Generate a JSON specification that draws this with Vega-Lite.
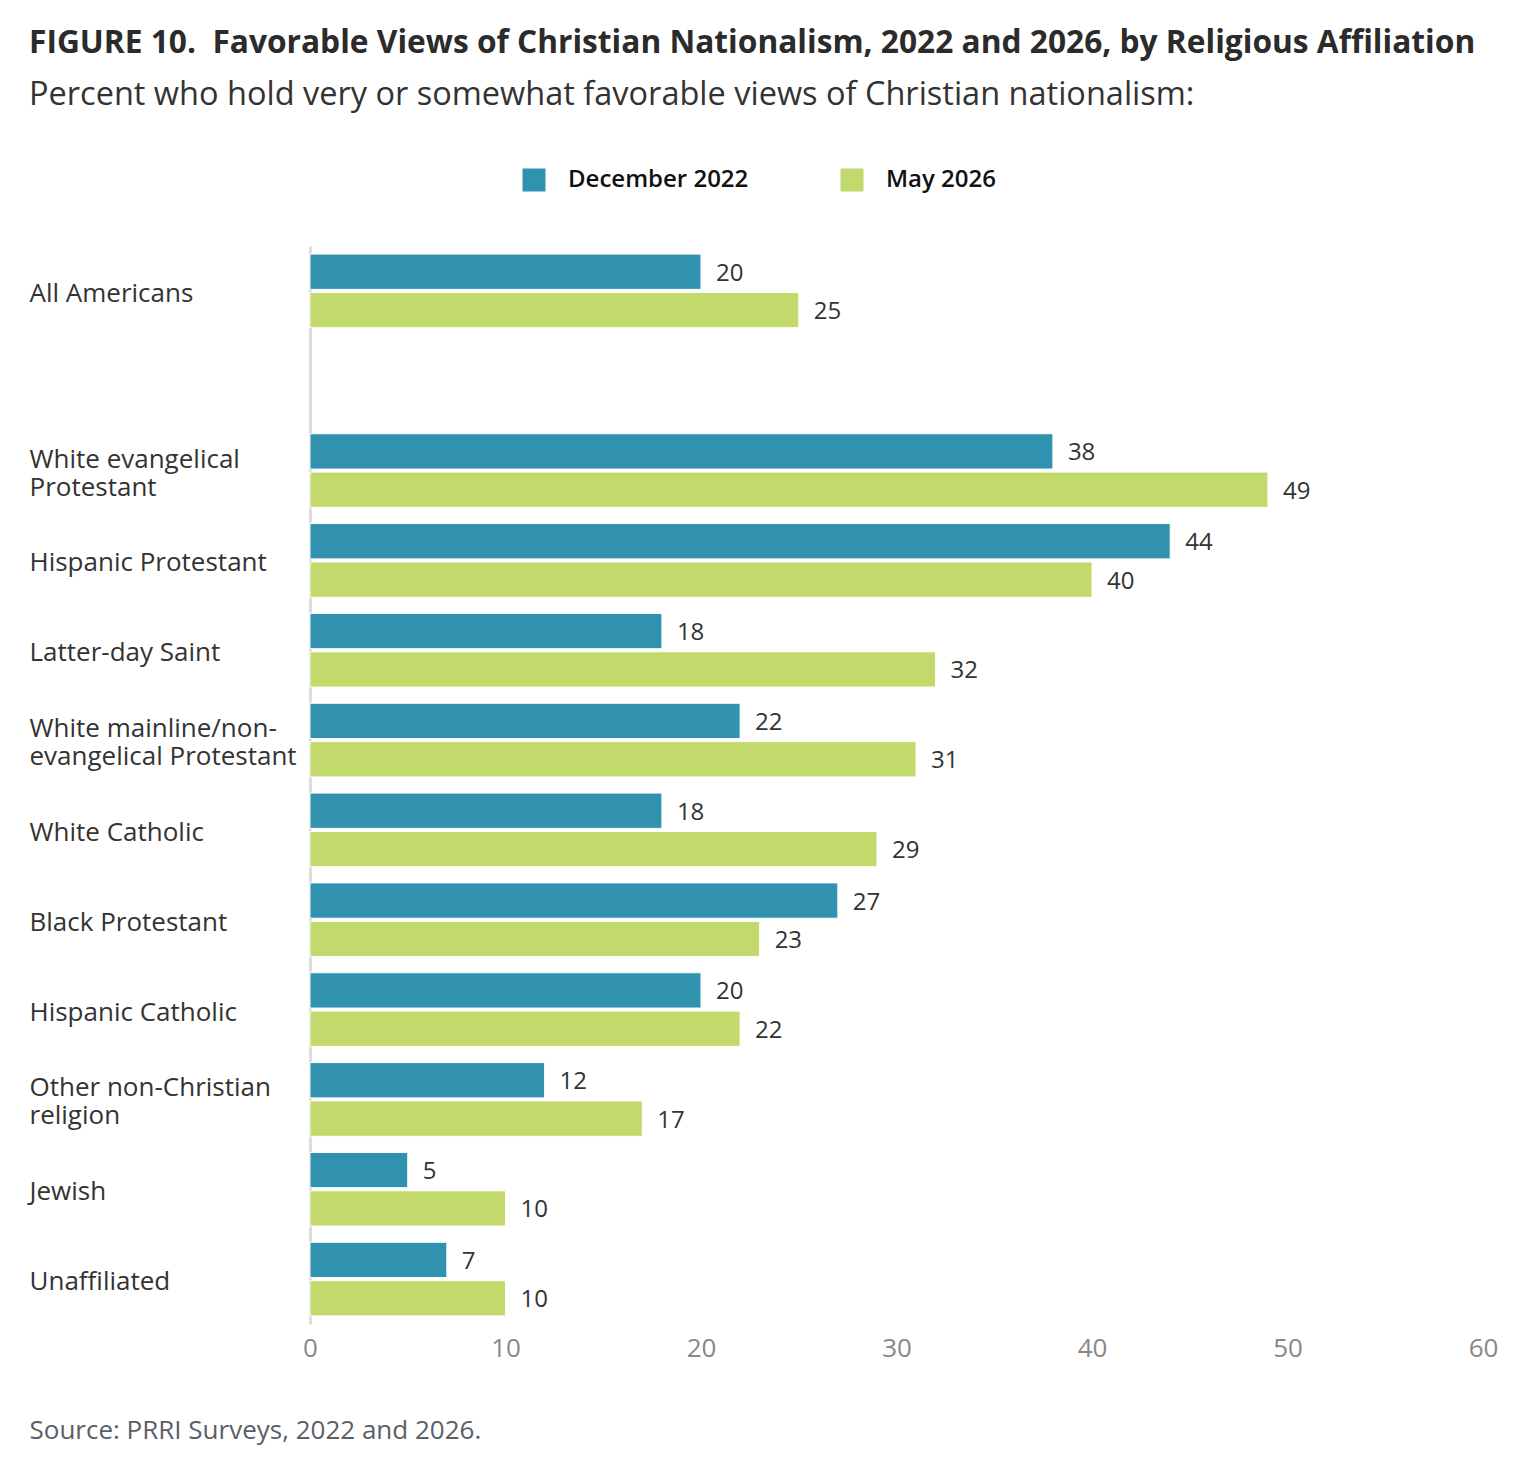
{
  "$schema": "https://vega.github.io/schema/vega-lite/v6.json",
  "autosize": "none",
  "width": 1173,
  "height": 1078,
  "padding": {"left": 310, "top": 246, "right": 53, "bottom": 144},
  "background": "white",
  "config": {
    "font": "Open Sans",
    "view": {"stroke": null}
  },
  "title": {
    "text": "FIGURE 10.\u00a0 Favorable Views of Christian Nationalism, 2022 and 2026, by Religious Affiliation",
    "subtitle": "Percent who hold very or somewhat favorable views of Christian nationalism:",
    "anchor": "start",
    "frame": "group",
    "dx": -281,
    "fontSize": 31.7,
    "fontWeight": "bold",
    "color": "#2b2b2b",
    "subtitleFontSize": 32.5,
    "subtitleColor": "#333333",
    "subtitleFont": "Open Sans",
    "subtitlePadding": 19,
    "offset": 57
  },
  "data": {
    "values": [
      {"group": "All Americans", "series": "December 2022", "value": 20},
      {"group": "All Americans", "series": "May 2026", "value": 25},
      {"group": "White evangelical Protestant", "series": "December 2022", "value": 38},
      {"group": "White evangelical Protestant", "series": "May 2026", "value": 49},
      {"group": "Hispanic Protestant", "series": "December 2022", "value": 44},
      {"group": "Hispanic Protestant", "series": "May 2026", "value": 40},
      {"group": "Latter-day Saint", "series": "December 2022", "value": 18},
      {"group": "Latter-day Saint", "series": "May 2026", "value": 32},
      {"group": "White mainline/non-evangelical Protestant", "series": "December 2022", "value": 22},
      {"group": "White mainline/non-evangelical Protestant", "series": "May 2026", "value": 31},
      {"group": "White Catholic", "series": "December 2022", "value": 18},
      {"group": "White Catholic", "series": "May 2026", "value": 29},
      {"group": "Black Protestant", "series": "December 2022", "value": 27},
      {"group": "Black Protestant", "series": "May 2026", "value": 23},
      {"group": "Hispanic Catholic", "series": "December 2022", "value": 20},
      {"group": "Hispanic Catholic", "series": "May 2026", "value": 22},
      {"group": "Other non-Christian religion", "series": "December 2022", "value": 12},
      {"group": "Other non-Christian religion", "series": "May 2026", "value": 17},
      {"group": "Jewish", "series": "December 2022", "value": 5},
      {"group": "Jewish", "series": "May 2026", "value": 10},
      {"group": "Unaffiliated", "series": "December 2022", "value": 7},
      {"group": "Unaffiliated", "series": "May 2026", "value": 10}
    ]
  },
  "encoding": {
    "y": {
      "field": "group",
      "type": "nominal",
      "scale": {
        "domain": ["All Americans", " ", "White evangelical Protestant", "Hispanic Protestant", "Latter-day Saint", "White mainline/non-evangelical Protestant", "White Catholic", "Black Protestant", "Hispanic Catholic", "Other non-Christian religion", "Jewish", "Unaffiliated"],
        "paddingInner": 0.18,
        "paddingOuter": 0.09
      },
      "axis": {
        "title": null,
        "ticks": false,
        "domain": true,
        "domainColor": "#dddddd",
        "domainWidth": 3,
        "labelAlign": "left",
        "labelPadding": 281,
        "labelFontSize": 26,
        "labelColor": "#333333",
        "labelLineHeight": 28,
        "labelLimit": 300,
        "labelOffset": {
          "condition": {
            "test": "indexof(['White evangelical Protestant', 'White mainline/non-evangelical Protestant', 'Other non-Christian religion'], datum.value) >= 0",
            "value": -11
          },
          "value": 3
        },
        "labelExpr": "datum.value == 'White evangelical Protestant' ? ['White evangelical', 'Protestant'] : datum.value == 'White mainline/non-evangelical Protestant' ? ['White mainline/non-', 'evangelical Protestant'] : datum.value == 'Other non-Christian religion' ? ['Other non-Christian', 'religion'] : datum.value"
      }
    },
    "yOffset": {
      "field": "series",
      "type": "nominal",
      "scale": {"domain": ["December 2022", "May 2026"], "paddingInner": 0.08}
    },
    "x": {
      "field": "value",
      "type": "quantitative",
      "scale": {"domain": [0, 60], "nice": false},
      "axis": {
        "values": [0, 10, 20, 30, 40, 50, 60],
        "grid": false,
        "domain": false,
        "ticks": false,
        "labelFlush": false,
        "labelFontSize": 26,
        "labelColor": "#888888",
        "labelPadding": 11,
        "title": "Source: PRRI Surveys, 2022 and 2026.",
        "titleX": -281,
        "titleY": 114,
        "titleAlign": "left",
        "titleAnchor": "start",
        "titleBaseline": "alphabetic",
        "titleFontWeight": "normal",
        "titleFontSize": 26,
        "titleColor": "#5a6066"
      }
    }
  },
  "layer": [
    {
      "mark": {"type": "bar", "stroke": "white", "strokeWidth": 1},
      "encoding": {
        "color": {
          "field": "series",
          "type": "nominal",
          "scale": {"domain": ["December 2022", "May 2026"], "range": ["#3192B0", "#C2DA6C"]},
          "legend": {
            "title": null,
            "orient": "none",
            "legendX": 212,
            "legendY": -78,
            "direction": "horizontal",
            "symbolType": "square",
            "symbolSize": 529,
            "symbolStrokeWidth": 0,
            "labelFontSize": 24,
            "labelFontWeight": 600,
            "labelColor": "#111111",
            "labelOffset": 22,
            "labelLimit": 400,
            "columnPadding": 91
          }
        }
      }
    },
    {
      "mark": {"type": "text", "align": "left", "baseline": "middle", "dx": 15, "dy": 2, "fontSize": 24, "color": "#333333"},
      "encoding": {
        "text": {"field": "value", "type": "quantitative"}
      }
    }
  ]
}
